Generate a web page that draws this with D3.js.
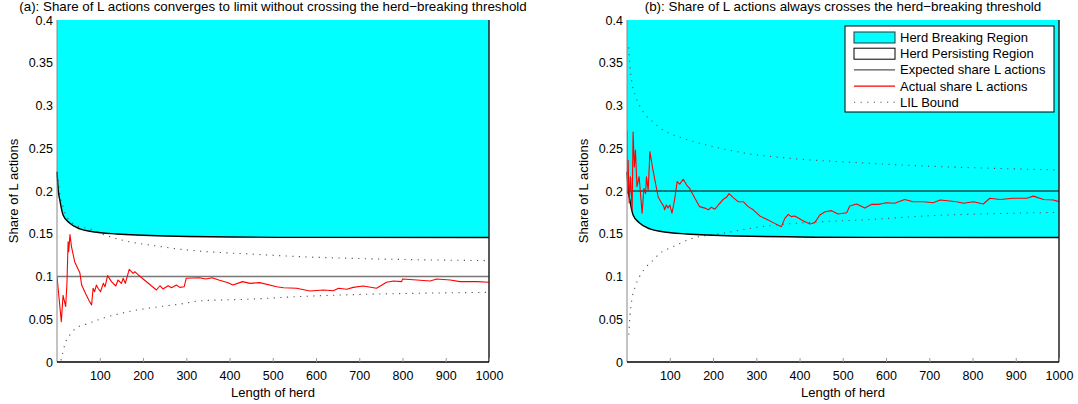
<!DOCTYPE html>
<html>
<head>
<meta charset="utf-8">
<script src="https://cdn.jsdelivr.net/npm/d3@7/dist/d3.min.js"></script>
<style>
  html, body { margin: 0; padding: 0; background: #fff; }
  svg { display: block; }
  text { font-family: "Liberation Sans", Arial, Helvetica, sans-serif; fill: #000; }
</style>
</head>
<body>
<svg id="chart" width="1078" height="404"></svg>
<script>
// ---------------- data ----------------
const titles = [
  "(a): Share of L actions converges to limit without crossing the herd\u2212breaking threshold",
  "(b): Share of L actions always crosses the herd\u2212breaking threshold"
];
const xLabel = "Length of herd";
const yLabel = "Share of L actions";
const xTicks = [100, 200, 300, 400, 500, 600, 700, 800, 900, 1000];
const xTickLabels = ["100", "200", "300", "400", "500", "600", "700", "800", "900", "1000"];
const yTicks = [0, 0.05, 0.1, 0.15, 0.2, 0.25, 0.3, 0.35, 0.4];
const yTickLabels = ["0", "0.05", "0.1", "0.15", "0.2", "0.25", "0.3", "0.35", "0.4"];
const legendLabels = ["Herd Breaking Region", "Herd Persisting Region", "Expected share L actions", "Actual share L actions", "LIL Bound"];

// herd-breaking threshold (lower edge of cyan region)
const thresholdN = [1, 4, 7.5, 15, 30, 54, 84, 139, 255, 563, 1000];
const thresholdV = [0.2226, 0.200, 0.1895, 0.172, 0.1626, 0.1556, 0.1524, 0.1497, 0.1474, 0.1458, 0.1456];

// expected share of L actions
const expectedA = 0.1;
const expectedB = 0.2;

// panel (a): actual share
const actualAN = [1, 11, 15, 21, 24, 26.7, 28, 31, 34.5, 42, 54, 58, 67, 75, 81, 84.5, 88, 92, 96, 101.6, 108, 112, 118, 127, 137, 142, 150, 154, 159, 168, 177, 181, 189, 210, 231, 239, 246, 258, 266, 277, 285, 295, 300, 330, 345, 360, 375, 395, 408, 430, 447, 470, 509, 525, 555, 586, 617, 640, 652, 671, 686, 709, 740, 763, 779, 798, 800, 833, 864, 879, 910, 933, 972, 1000];
const actualAV = [0.100, 0.047, 0.078, 0.065, 0.092, 0.1407, 0.129, 0.149, 0.135, 0.117, 0.104, 0.090, 0.080, 0.072, 0.0667, 0.0862, 0.0822, 0.090, 0.0862, 0.0822, 0.092, 0.088, 0.101, 0.094, 0.0889, 0.0959, 0.092, 0.0979, 0.092, 0.1084, 0.1037, 0.1056, 0.1018, 0.093, 0.0842, 0.0892, 0.0854, 0.0892, 0.0869, 0.090, 0.0873, 0.088, 0.098, 0.0986, 0.097, 0.0985, 0.096, 0.093, 0.090, 0.094, 0.092, 0.0928, 0.088, 0.0869, 0.0862, 0.083, 0.0842, 0.0834, 0.0862, 0.085, 0.0873, 0.0889, 0.0862, 0.0932, 0.0947, 0.094, 0.097, 0.0959, 0.0947, 0.097, 0.0959, 0.094, 0.094, 0.0932];

// panel (a): LIL bounds
const lilUpperAN = [3.4, 7.5, 15, 23, 54, 73, 112, 150, 189, 227, 281, 350, 447, 563, 700, 850, 1000];
const lilUpperAV = [0.213, 0.197, 0.1817, 0.170, 0.158, 0.1564, 0.1485, 0.1427, 0.1388, 0.136, 0.1322, 0.129, 0.1263, 0.1232, 0.121, 0.1195, 0.1185];
const lilLowerAN = [10, 12, 20, 30, 46, 73, 112, 150, 189, 227, 289, 331, 447, 563, 700, 850, 1000];
const lilLowerAV = [0.002, 0.006, 0.022, 0.031, 0.040, 0.045, 0.052, 0.057, 0.061, 0.064, 0.068, 0.0715, 0.0735, 0.0766, 0.079, 0.0805, 0.0815];

// panel (b): actual share
const actualBN = [1, 2, 3.5, 6, 9, 13, 15, 18, 20.6, 24, 29, 36, 40, 44, 46, 50, 54, 61, 73, 81, 86, 88, 92, 96, 100, 105, 111.6, 117, 123, 131, 139, 146, 158, 169, 181, 189, 196, 204, 212, 223, 231, 237, 246, 258, 270, 281, 293, 308, 324, 339, 358, 366, 374, 381, 389, 408, 424, 435, 447, 459, 474, 489, 509, 516, 532, 551, 567, 582, 601, 620, 643, 663, 686, 709, 725, 748, 763, 779, 802, 825, 840, 864, 894, 925, 941, 964, 987, 1000];
const actualBV = [0.271, 0.197, 0.236, 0.186, 0.2167, 0.178, 0.269, 0.228, 0.248, 0.205, 0.2167, 0.174, 0.203, 0.197, 0.2167, 0.201, 0.246, 0.2246, 0.193, 0.186, 0.182, 0.178, 0.1836, 0.18, 0.1836, 0.174, 0.1915, 0.211, 0.208, 0.2137, 0.207, 0.203, 0.1915, 0.1817, 0.18, 0.178, 0.181, 0.1786, 0.1836, 0.190, 0.1926, 0.197, 0.1926, 0.1875, 0.1875, 0.1817, 0.178, 0.1708, 0.1669, 0.163, 0.1583, 0.168, 0.1727, 0.170, 0.1708, 0.1653, 0.1614, 0.163, 0.172, 0.1758, 0.177, 0.1731, 0.1746, 0.1825, 0.1848, 0.18, 0.1844, 0.1844, 0.1863, 0.1856, 0.190, 0.1875, 0.1875, 0.1863, 0.1895, 0.1883, 0.1875, 0.1856, 0.1875, 0.1848, 0.1915, 0.190, 0.1915, 0.1915, 0.194, 0.190, 0.1895, 0.1875];

// panel (b): LIL bounds
const lilUpperBN = [5, 8, 12, 20, 30, 42, 61, 84, 108, 131, 169, 216, 277, 384, 540, 700, 850, 1000];
const lilUpperBV = [0.368, 0.345, 0.328, 0.312, 0.300, 0.290, 0.281, 0.2713, 0.2655, 0.2616, 0.2558, 0.250, 0.244, 0.238, 0.233, 0.229, 0.2265, 0.2246];
const lilLowerBN = [5, 8, 12, 20, 30, 46, 61, 77, 108, 153, 216, 308, 447, 540, 700, 850, 1000];
const lilLowerBV = [0.032, 0.055, 0.072, 0.088, 0.100, 0.1115, 0.119, 0.127, 0.135, 0.1447, 0.150, 0.158, 0.164, 0.166, 0.171, 0.1735, 0.175];

// ---------------- drawing ----------------
const svg = d3.select("#chart");
const FONT_TICK = 12.5, FONT_LABEL = 13, FONT_TITLE = 12.5;
const TITLE_WIDTHS = [508, 397];   // measured title widths in the reference
const zip = (ns, vs) => ns.map((n, i) => [n, vs[i]]);

const panels = [
  { left: 57, right: 489, title: titles[0], expected: expectedA, expColor: "#777", expWidth: 1.6,
    actual: zip(actualAN, actualAV), up: zip(lilUpperAN, lilUpperAV), lo: zip(lilLowerAN, lilLowerAV), legend: false },
  { left: 627, right: 1059, title: titles[1], expected: expectedB, expColor: "#000", expWidth: 1.2,
    actual: zip(actualBN, actualBV), up: zip(lilUpperBN, lilUpperBV), lo: zip(lilLowerBN, lilLowerBV), legend: true }
];
const plotTop = 20, plotBottom = 362;
const threshold = zip(thresholdN, thresholdV);

panels.forEach((p, idx) => {
  const x = d3.scaleLinear().domain([1, 1000]).range([p.left, p.right]);
  const y = d3.scaleLinear().domain([0, 0.4]).range([plotBottom, plotTop]);
  const g = svg.append("g");
  const clipId = "clip" + idx;
  svg.append("clipPath").attr("id", clipId).append("rect")
    .attr("x", p.left).attr("y", plotTop).attr("width", p.right - p.left).attr("height", plotBottom - plotTop);

  // cyan herd breaking region
  const area = d3.area().x(d => x(d[0])).y0(y(0.4)).y1(d => y(d[1])).curve(d3.curveMonotoneX);
  g.append("path").datum(threshold).attr("d", area).attr("fill", "#00ffff").attr("stroke", "none");

  // LIL bounds (dotted)
  const line = d3.line().x(d => x(d[0])).y(d => y(d[1])).curve(d3.curveMonotoneX);
  [p.up, p.lo].forEach(arr => {
    g.append("path").datum(arr).attr("d", line).attr("fill", "none")
      .attr("stroke", "#555").attr("stroke-width", 1.1).attr("stroke-dasharray", "1.2,5.4")
      .attr("clip-path", `url(#${clipId})`);
  });

  // threshold curve
  g.append("path").datum(threshold).attr("d", line).attr("fill", "none")
    .attr("stroke", "#000").attr("stroke-width", 1.4);

  // expected share line
  g.append("line").attr("x1", x(1)).attr("x2", x(1000)).attr("y1", y(p.expected)).attr("y2", y(p.expected))
    .attr("stroke", p.expColor).attr("stroke-width", p.expWidth);

  // actual share
  const lineLin = d3.line().x(d => x(d[0])).y(d => y(d[1]));
  g.append("path").datum(p.actual).attr("d", lineLin).attr("fill", "none")
    .attr("stroke", "#ff0000").attr("stroke-width", 1.1).attr("stroke-linejoin", "round")
    .attr("clip-path", `url(#${clipId})`);

  // axes frame
  g.append("line").attr("x1", p.left).attr("x2", p.left).attr("y1", plotTop).attr("y2", plotBottom)
    .attr("stroke", "#888").attr("stroke-width", 1);
  g.append("line").attr("x1", p.right).attr("x2", p.right).attr("y1", plotTop).attr("y2", plotBottom)
    .attr("stroke", "#222").attr("stroke-width", 1.5);
  g.append("line").attr("x1", p.left).attr("x2", p.right).attr("y1", plotBottom).attr("y2", plotBottom)
    .attr("stroke", "#000").attr("stroke-width", 1.3);

  // x axis ticks and labels
  const xa = g.append("g").attr("transform", `translate(0,${plotBottom})`)
    .call(d3.axisBottom(x).tickValues(xTicks).tickFormat((d, i) => xTickLabels[i]).tickSize(-4).tickPadding(9));
  xa.select(".domain").remove();
  xa.selectAll(".tick line").attr("stroke", "#999");
  xa.selectAll("text").attr("font-size", FONT_TICK).attr("font-family", "Liberation Sans, Arial, sans-serif").attr("fill", "#000");

  // y axis ticks and labels
  const ya = g.append("g").attr("transform", `translate(${p.left},0)`)
    .call(d3.axisLeft(y).tickValues(yTicks).tickFormat((d, i) => yTickLabels[i]).tickSize(0).tickPadding(4));
  ya.select(".domain").remove();
  ya.selectAll("text").attr("font-size", FONT_TICK).attr("font-family", "Liberation Sans, Arial, sans-serif").attr("fill", "#000");

  // title (font size fitted to the reference title width)
  const tt = g.append("text").attr("x", (p.left + p.right) / 2).attr("y", 11).attr("text-anchor", "middle")
    .attr("font-size", FONT_TITLE).text(p.title);
  const w = tt.node().getComputedTextLength();
  if (w > 0) tt.attr("font-size", Math.min(13.5, Math.max(11, FONT_TITLE * TITLE_WIDTHS[idx] / w)));
  // x label
  g.append("text").attr("x", (p.left + p.right) / 2).attr("y", 397).attr("text-anchor", "middle")
    .attr("font-size", FONT_LABEL).text(xLabel);
  // y label
  g.append("text").attr("transform", `translate(${p.left - 39},${(plotTop + plotBottom) / 2}) rotate(-90)`)
    .attr("text-anchor", "middle").attr("font-size", FONT_LABEL).text(yLabel);

  // legend
  if (p.legend) {
    const lx = 845, ly = 26, lw = 209, lh = 86;
    const lg = g.append("g");
    lg.append("rect").attr("x", lx).attr("y", ly).attr("width", lw).attr("height", lh)
      .attr("fill", "#fff").attr("stroke", "#000").attr("stroke-width", 1);
    const rowY = i => ly + 11.5 + i * 16.2;
    const sx1 = lx + 9, sx2 = lx + 50;
    lg.append("rect").attr("x", sx1).attr("y", rowY(0) - 5.5).attr("width", sx2 - sx1).attr("height", 11)
      .attr("fill", "#00ffff").attr("stroke", "#333").attr("stroke-width", 1);
    lg.append("rect").attr("x", sx1).attr("y", rowY(1) - 5.5).attr("width", sx2 - sx1).attr("height", 11)
      .attr("fill", "#fff").attr("stroke", "#000").attr("stroke-width", 1);
    lg.append("line").attr("x1", sx1).attr("x2", sx2).attr("y1", rowY(2)).attr("y2", rowY(2))
      .attr("stroke", "#555").attr("stroke-width", 1.2);
    lg.append("line").attr("x1", sx1).attr("x2", sx2).attr("y1", rowY(3)).attr("y2", rowY(3))
      .attr("stroke", "#ff0000").attr("stroke-width", 1.2);
    lg.append("line").attr("x1", sx1).attr("x2", sx2).attr("y1", rowY(4)).attr("y2", rowY(4))
      .attr("stroke", "#555").attr("stroke-width", 1.1).attr("stroke-dasharray", "1.2,5.4");
    legendLabels.forEach((t, i) => {
      lg.append("text").attr("x", lx + 55).attr("y", rowY(i)).attr("dy", "0.35em")
        .attr("font-size", FONT_LABEL).text(t);
    });
  }
});
</script>
</body>
</html>
